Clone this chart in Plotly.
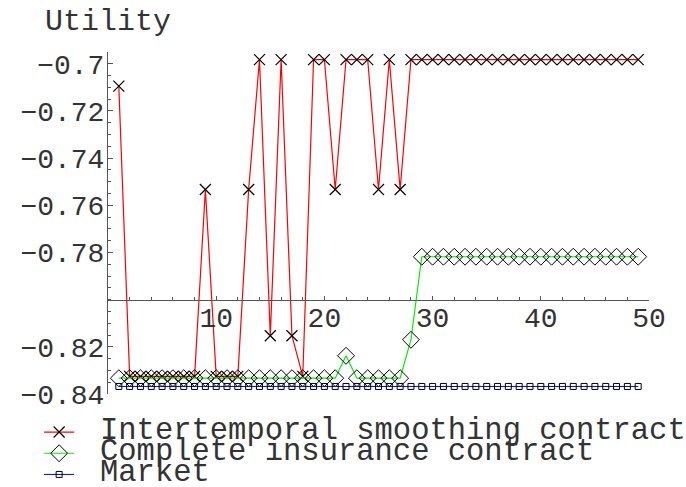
import plotly.graph_objects as go

periods = list(range(1, 50))

intertemporal = ([-0.7095] + [-0.8325] * 7 + [-0.7533] + [-0.8325] * 3 +
                 [-0.7533, -0.6982, -0.8153, -0.6982, -0.8153, -0.8325,
                  -0.6982, -0.6982, -0.7533, -0.6982, -0.6982, -0.6982,
                  -0.7533, -0.6982, -0.7533] + [-0.6982] * 22)
complete = [-0.8333] * 21 + [-0.8238] + [-0.8333] * 5 + [-0.817] + [-0.7818] * 21
market = [-0.8368] * 49

series_names = ["Intertemporal smoothing contract", "Complete insurance contract", "Market"]
y_title = "Utility"
x_ticks = [10, 20, 30, 40, 50]
y_ticks = [-0.84, -0.82, -0.78, -0.76, -0.74, -0.72, -0.7]
y_tick_text = ["\u22120.84", "\u22120.82", "\u22120.78", "\u22120.76", "\u22120.74", "\u22120.72", "\u22120.7"]

x_range = [0, 50]
y_range = [-0.84, -0.695]
x_cross = -0.8

FONT = "Liberation Mono, Courier New, monospace"

fig = go.Figure()
fig.add_trace(go.Scatter(
    x=periods, y=intertemporal, mode="lines+markers", name=" ",
    line=dict(color="#ff0000", width=1.2),
    marker=dict(symbol="x-thin-open", size=11, color="black",
                line=dict(color="black", width=1.2)),
))
fig.add_trace(go.Scatter(
    x=periods, y=complete, mode="lines+markers", name=" ",
    line=dict(color="#00f000", width=1.2),
    marker=dict(symbol="diamond-open", size=13, color="black",
                line=dict(color="black", width=1)),
))
fig.add_trace(go.Scatter(
    x=periods, y=market, mode="lines+markers", name=" ",
    line=dict(color="#0000ff", width=1),
    marker=dict(symbol="square-open", size=6, color="black",
                line=dict(color="black", width=1)),
))

pos = (x_cross - y_range[0]) / (y_range[1] - y_range[0])

fig.update_layout(
    width=686, height=487,
    margin=dict(l=108, r=37, t=52, b=93, autoexpand=False),
    paper_bgcolor="white", plot_bgcolor="white",
    font=dict(family=FONT, color="#333333"),
    showlegend=True,
    legend=dict(x=-0.1273, y=-0.0656, xanchor="left", yanchor="top",
                font=dict(size=14), bgcolor="rgba(0,0,0,0)",
                tracegroupgap=0, itemwidth=30),
    xaxis=dict(range=x_range, anchor="free", position=pos,
               showline=True, linecolor="#555555", linewidth=1,
               showgrid=False, zeroline=False,
               tickmode="array", tickvals=x_ticks,
               ticks="inside", ticklen=4, tickcolor="#555555",
               ticklabelstandoff=-7,
               tickfont=dict(size=28, family=FONT, color="#333333"),
               minor=dict(dtick=2, ticks="inside", ticklen=3, tickcolor="#555555"),
               fixedrange=True, automargin=False),
    yaxis=dict(range=y_range, showline=True, linecolor="#555555", linewidth=1,
               showgrid=False, zeroline=False,
               tickmode="array", tickvals=y_ticks, ticktext=y_tick_text,
               ticks="inside", ticklen=5, tickcolor="#555555",
               ticklabelstandoff=-3,
               tickfont=dict(size=28, family=FONT, color="#333333"),
               minor=dict(dtick=0.005, tick0=-0.84, ticks="inside", ticklen=3,
                          tickcolor="#555555"),
               fixedrange=True, automargin=False),
)

fig.add_annotation(text=y_title, xref="paper", yref="paper", x=0, y=1,
                   xanchor="center", yanchor="bottom", yshift=11, showarrow=False,
                   font=dict(size=30, family=FONT, color="#333333"))

legend_rows = [-0.107, -0.171, -0.232]
for name, yy in zip(series_names, legend_rows):
    fig.add_annotation(text=name, xref="paper", yref="paper", x=-0.0185, y=yy,
                       xanchor="left", yanchor="middle", showarrow=False,
                       font=dict(size=30.5, family=FONT, color="#333333"))

fig.write_html("out.html")
